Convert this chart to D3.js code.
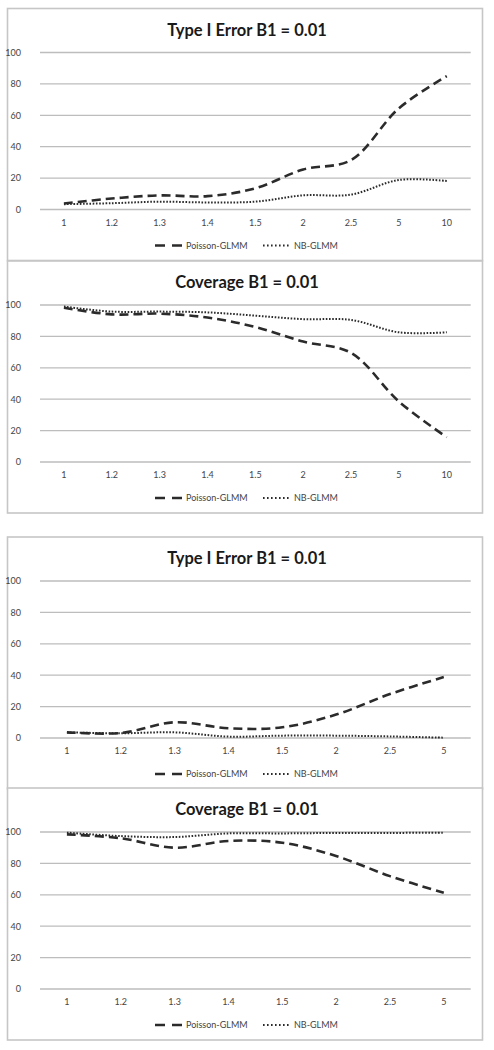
<!DOCTYPE html>
<html>
<head>
<meta charset="utf-8">
<script src="https://cdn.jsdelivr.net/npm/d3@7"></script>
<style>
  html, body { margin: 0; padding: 0; background: #fff; }
  svg { display: block; }
</style>
</head>
<body>
<svg id="chart" width="494" height="1050"></svg>
<script>
// ---- Data ----
const categoriesA = ["1", "1.2", "1.3", "1.4", "1.5", "2", "2.5", "5", "10"];
const categoriesB = ["1", "1.2", "1.3", "1.4", "1.5", "2", "2.5", "5"];
const yTickValues = [0, 20, 40, 60, 80, 100];
const seriesNames = ["Poisson-GLMM", "NB-GLMM"];

const typeIErrorA_Poisson = [3.8, 7, 9, 8.5, 13.5, 25.5, 31.5, 64.5, 85];
const typeIErrorA_NB      = [3.4, 4, 5, 4.5, 5, 9, 9.5, 18.8, 18.2];
const coverageA_Poisson   = [98.3, 94, 94.5, 92, 86, 76.7, 69.5, 38.5, 15.8];
const coverageA_NB        = [99, 95.8, 95.8, 95.3, 93.2, 91, 90.5, 82.6, 82.6];

const typeIErrorB_Poisson = [3.6, 3.2, 10, 6.2, 6.8, 14.9, 28, 38.8];
const typeIErrorB_NB      = [3.6, 3, 3.6, 0.9, 1.5, 1.5, 1, 0.2];
const coverageB_Poisson   = [98.5, 96, 90, 94.3, 93.2, 84.7, 71.9, 61.3];
const coverageB_NB        = [99.6, 97.4, 96.8, 99.1, 99.1, 99.4, 99.4, 99.6];

const titles = ["Type I Error B1 = 0.01", "Coverage B1 = 0.01", "Type I Error B1 = 0.01", "Coverage B1 = 0.01"];

// ---- Layout ----
const panels = [
  { top: 8.5,  cats: categoriesA, title: titles[0], s: [typeIErrorA_Poisson, typeIErrorA_NB] },
  { top: 261,  cats: categoriesA, title: titles[1], s: [coverageA_Poisson, coverageA_NB] },
  { top: 537,  cats: categoriesB, title: titles[2], s: [typeIErrorB_Poisson, typeIErrorB_NB] },
  { top: 788,  cats: categoriesB, title: titles[3], s: [coverageB_Poisson, coverageB_NB] }
];
const boxLeft = 7.5, boxRight = 482.5, boxH = 252;
const plotLeft = 40, plotRight = 470.7;
const lineColor = "#2b2b2b";
const styles = [
  { width: 2.6, dash: "9,5" },
  { width: 2, dash: "1.6,1.6" }
];

const svg = d3.select("#chart");
const font = "Lato, 'Open Sans', 'Liberation Sans', sans-serif";

panels.forEach(p => {
  const g = svg.append("g");
  // frame
  g.append("rect")
    .attr("x", boxLeft).attr("y", p.top)
    .attr("width", boxRight - boxLeft).attr("height", boxH)
    .attr("fill", "#fff").attr("stroke", "#c6c6c6").attr("stroke-width", 1.6);

  const x = d3.scaleBand().domain(p.cats).range([plotLeft, plotRight]);
  const y = d3.scaleLinear().domain([0, 100]).range([p.top + 201, p.top + 44]);

  // title
  g.append("text")
    .attr("x", (boxLeft + boxRight) / 2 + 2).attr("y", p.top + 27)
    .attr("text-anchor", "middle")
    .attr("font-family", font).attr("font-weight", "bold")
    .attr("font-size", 16.5).attr("fill", "#1a1a1a")
    .text(p.title);

  // y axis labels
  const yAxis = d3.axisLeft(y).tickValues(yTickValues).tickSize(0).tickPadding(0);
  const ya = g.append("g").attr("transform", `translate(${plotLeft},0)`).call(yAxis);
  ya.select(".domain").remove();
  ya.selectAll(".tick line").remove();
  ya.selectAll(".tick text")
    .attr("x", -19).attr("font-family", font).attr("font-size", 9).attr("fill", "#444");

  // gridlines
  g.selectAll(".grid").data(yTickValues).enter().append("line")
    .attr("x1", plotLeft).attr("x2", plotRight)
    .attr("y1", d => y(d)).attr("y2", d => y(d))
    .attr("stroke", "#bdbdbd").attr("stroke-width", 1.3);

  // x axis labels
  const xAxis = d3.axisBottom(x).tickSize(0).tickPadding(0);
  const xa = g.append("g").attr("transform", `translate(0,${p.top + 211})`).call(xAxis);
  xa.select(".domain").remove();
  xa.selectAll(".tick text")
    .attr("dy", "0.71em").attr("font-family", font).attr("font-size", 9).attr("fill", "#444");

  // lines
  const line = d3.line()
    .x((d, i) => x(p.cats[i]) + x.bandwidth() / 2)
    .y(d => y(d))
    .curve(d3.curveCatmullRom.alpha(0.5));
  p.s.forEach((vals, k) => {
    g.append("path").datum(vals)
      .attr("d", line)
      .attr("fill", "none").attr("stroke", lineColor)
      .attr("stroke-width", styles[k].width)
      .attr("stroke-dasharray", styles[k].dash);
  });

  // legend
  const ly = p.top + 237;
  const legendItems = [
    { x1: 155, x2: 182, tx: 186, name: seriesNames[0] },
    { x1: 263, x2: 291, tx: 294, name: seriesNames[1] }
  ];
  legendItems.forEach((it, k) => {
    g.append("line")
      .attr("x1", it.x1).attr("x2", it.x2).attr("y1", ly).attr("y2", ly)
      .attr("stroke", lineColor).attr("stroke-width", styles[k].width)
      .attr("stroke-dasharray", k === 0 ? "10,7" : "1.6,2.4");
    g.append("text")
      .attr("x", it.tx).attr("y", ly).attr("dy", "0.35em")
      .attr("font-family", font).attr("font-size", 9).attr("fill", "#444")
      .text(it.name);
  });
});
</script>
</body>
</html>
